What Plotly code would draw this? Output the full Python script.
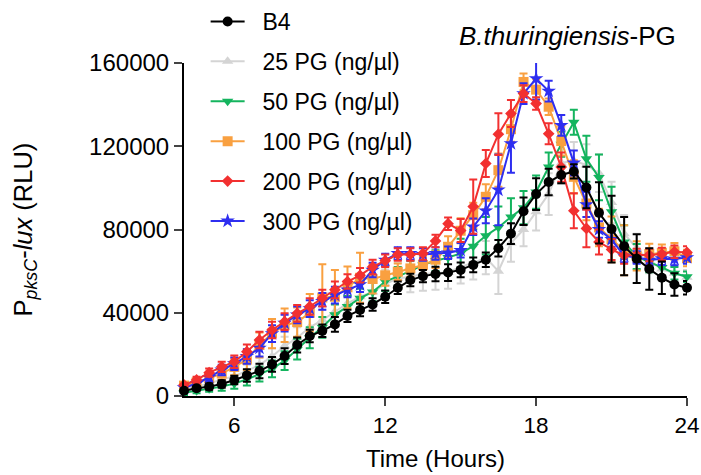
import plotly.graph_objects as go

hours = [4, 4.5, 5, 5.5, 6, 6.5, 7, 7.5, 8, 8.5, 9, 9.5, 10, 10.5, 11, 11.5, 12, 12.5, 13, 13.5,
         14, 14.5, 15, 15.5, 16, 16.5, 17, 17.5, 18, 18.5, 19, 19.5, 20, 20.5, 21, 21.5, 22, 22.5,
         23, 23.5, 24]

series_names = ["B4", "25 PG (ng/µl)", "50 PG (ng/µl)", "100 PG (ng/µl)", "200 PG (ng/µl)", "300 PG (ng/µl)"]

B4 = [2500, 3700, 4500, 5800, 7700, 9900, 12000, 15200, 19200, 24500, 28800, 31300, 34400, 38500,
      41300, 44000, 47700, 52000, 55700, 57600, 58600, 59300, 60600, 63000, 65500, 71000, 78000,
      88800, 97000, 102800, 106200, 107900, 100200, 88000, 80200, 72000, 66000, 61000, 56800, 53600, 52000]
B4_err = [1000, 1200, 1500, 1800, 2000, 3000, 3500, 3500, 3800, 3600, 3000, 3000, 3500, 3000, 3000,
          3000, 3000, 3000, 3000, 3000, 3500, 4000, 3500, 3500, 3500, 4000, 5000, 6600, 7600, 6400,
          4000, 3400, 10000, 14700, 16000, 14000, 11700, 10000, 7800, 5400, 3200]

PG25 = [3500, 4500, 6000, 8000, 9500, 12000, 15000, 19000, 24000, 28000, 33000, 36500, 40500, 44500,
        47700, 50000, 53800, 56500, 57300, 58600, 59000, 59500, 62000, 64000, 66500, 60000, 73500,
        80000, 88500, 97000, 112000, 113000, 111000, 107000, 93000, 78000, 71000, 65000, 61000, 59000, 57000]
PG25_err = [1500, 1500, 2000, 2000, 2500, 3000, 3500, 4000, 4500, 5000, 5000, 5000, 5500, 6000, 6000,
            6500, 7000, 7500, 7500, 8000, 8000, 8000, 8000, 8000, 8000, 11000, 9000, 8000, 9000, 10000,
            10000, 9000, 10000, 9000, 10000, 9000, 7000, 6000, 5000, 4000, 3500]

PG50 = [1500, 2500, 3500, 4500, 6000, 8000, 10500, 13000, 17000, 22500, 28000, 33000, 39000, 43000,
        47000, 50000, 55000, 57500, 60000, 63000, 65000, 66500, 68500, 72000, 77000, 81000, 86000,
        90500, 98000, 110000, 121000, 131500, 114000, 105000, 88500, 74000, 67000, 64500, 61800, 59000, 57300]
PG50_err = [1000, 1200, 1500, 2000, 2500, 3000, 3500, 4000, 4500, 5000, 5000, 5000, 5000, 5000, 4500,
            4500, 4500, 4500, 5000, 5000, 5000, 6000, 7000, 8000, 9000, 10000, 9000, 8000, 8000, 7000,
            6000, 6000, 11000, 11000, 12000, 8000, 6000, 5000, 4000, 3000, 2500]

PG100 = [5000, 6500, 8500, 10800, 14000, 17500, 24500, 30000, 34000, 35500, 40000, 47300, 47700, 52200,
         56800, 56200, 58000, 59700, 61300, 62900, 65500, 71700, 79400, 86900, 95700, 108500, 128200,
         150900, 147200, 139000, 122500, 105300, 92500, 81000, 75300, 70000, 67300, 68200, 68800, 69500, 66300]
PG100_err = [1500, 2000, 2500, 3000, 4000, 5000, 6000, 7000, 8000, 7000, 9000, 16000, 12800, 10000,
             12000, 7000, 5000, 4000, 4000, 4000, 4000, 5000, 6000, 6000, 6000, 8000, 6000, 4000, 5000,
             4000, 7000, 8000, 8000, 9000, 11000, 12000, 7000, 5000, 4000, 4000, 4000]

PG200 = [5300, 7700, 11200, 14000, 16500, 21300, 26900, 31700, 35700, 39700, 43000, 47000, 51000, 55000,
         58000, 62000, 65000, 68000, 68000, 68500, 74500, 82800, 79500, 91000, 111700, 125800, 135700,
         145300, 140500, 126000, 110000, 89000, 80500, 74000, 70400, 67500, 67700, 67700, 68200, 69300, 69000]
PG200_err = [1000, 1500, 2000, 2500, 3000, 3500, 4000, 4000, 4000, 4000, 4000, 4000, 4000, 3500, 3500,
             3500, 3000, 3000, 3000, 3000, 3000, 3000, 5500, 13000, 6500, 10000, 6500, 4000, 3000, 5000,
             7000, 8400, 9000, 6000, 5000, 4000, 3000, 3000, 3000, 3000, 3000]

PG300 = [4000, 6000, 9000, 12500, 15500, 19000, 23000, 30000, 35000, 39000, 42000, 45500, 48500, 51000,
         53500, 60500, 65300, 68500, 68500, 68000, 68500, 68800, 70000, 81300, 89000, 99000, 121300,
         145300, 152500, 146500, 130000, 112000, 92000, 80000, 75200, 67300, 66600, 65300, 66000, 65800, 66500]
PG300_err = [1000, 1500, 2000, 2500, 3000, 3500, 4000, 4000, 4000, 4000, 4000, 4000, 4000, 3500, 3500,
             3500, 3000, 3000, 3000, 3000, 3000, 3000, 3500, 4000, 6000, 17000, 14000, 5000, 10000, 5000,
             5000, 6000, 6000, 4000, 3500, 3000, 3000, 3000, 3000, 3000, 3000]

x_ticks = [6, 12, 18, 24]
y_ticks = [0, 40000, 80000, 120000, 160000]

FONT = "Arial, 'Liberation Sans', Helvetica, sans-serif"
NBSP = "\u00a0"

styles = {
    "B4": ("#000000", "circle", 10),
    "25 PG (ng/µl)": ("#d4d4d4", "triangle-up", 10),
    "50 PG (ng/µl)": ("#14b45e", "triangle-down", 10),
    "100 PG (ng/µl)": ("#f9a040", "square", 10),
    "200 PG (ng/µl)": ("#f23030", "diamond", 9),
    "300 PG (ng/µl)": ("#2e2ef0", "star", 11),
}

data = {
    "B4": (B4, B4_err),
    "25 PG (ng/µl)": (PG25, PG25_err),
    "50 PG (ng/µl)": (PG50, PG50_err),
    "100 PG (ng/µl)": (PG100, PG100_err),
    "200 PG (ng/µl)": (PG200, PG200_err),
    "300 PG (ng/µl)": (PG300, PG300_err),
}

draw_order = ["25 PG (ng/µl)", "50 PG (ng/µl)", "100 PG (ng/µl)", "300 PG (ng/µl)", "200 PG (ng/µl)", "B4"]

fig = go.Figure()
for name in draw_order:
    color, sym, size = styles[name]
    vals, errs = data[name]
    fig.add_trace(go.Scatter(
        x=hours, y=vals, name=NBSP * 2 + name, mode="lines+markers",
        line=dict(color=color, width=2),
        marker=dict(color=color, symbol=sym, size=size, line=dict(width=0)),
        error_y=dict(type="data", array=errs, visible=True, color=color, thickness=2, width=4),
        legendrank=series_names.index(name) + 1,
        legendgroup=name,
        cliponaxis=False,
    ))

fig.update_layout(
    width=701, height=475,
    margin=dict(l=184, r=14, t=63, b=79, autoexpand=False),
    paper_bgcolor="white", plot_bgcolor="white",
    font=dict(family=FONT, size=22, color="black"),
    showlegend=True,
    legend=dict(x=0.043, y=1.0, xref="paper", yref="container", xanchor="left", yanchor="top",
                bgcolor="rgba(0,0,0,0)", font=dict(size=23, family=FONT),
                tracegroupgap=7, itemwidth=34, maxheight=470),
    xaxis=dict(range=[4, 24], tickvals=x_ticks, ticks="outside", ticklen=8, tickwidth=2,
               showline=True, linecolor="black", linewidth=2, showgrid=False, zeroline=False,
               tickfont=dict(size=22.5)),
    yaxis=dict(range=[0, 160000], tickvals=y_ticks, tickformat="d", ticks="outside", ticklen=8,
               tickwidth=2, showline=True, linecolor="black", linewidth=2, showgrid=False,
               zeroline=False, tickfont=dict(size=24)),
    annotations=[
        dict(text="<i>B.thuringiensis</i>-PG", xref="paper", yref="paper", x=0.762, y=1.08,
             xanchor="center", yanchor="middle", showarrow=False, font=dict(size=26)),
        dict(text="P<sub><i>pksC</i></sub>-<i>lux</i> (RLU)", xref="paper", yref="paper",
             x=-0.318, y=0.5, xanchor="center", yanchor="middle", textangle=-90,
             showarrow=False, font=dict(size=25.5)),
        dict(text="Time (Hours)", xref="paper", yref="paper", x=0.5, y=-0.189,
             xanchor="center", yanchor="middle", showarrow=False, font=dict(size=24)),
    ],
)

fig.write_html(
    "out.html",
    config={"displayModeBar": False, "staticPlot": True},
    post_script="document.body.style.margin='0';document.body.style.padding='0';"
                "document.body.style.overflow='hidden';",
)
